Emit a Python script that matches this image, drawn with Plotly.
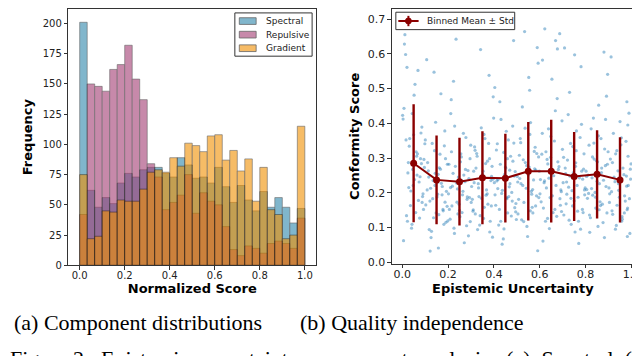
import numpy as np
import plotly.graph_objects as go

# ---- (a) histogram: counts per bin, 30 equal bins on [0, 1] ----
bin_edges = np.linspace(0.0, 1.0, 31)
spectral_counts = [201, 62, 48, 56, 51, 68, 76, 73, 79, 81, 81, 76, 73, 89, 83,
                   72, 73, 68, 81, 65, 52, 66, 54, 45, 61, 48, 56, 48, 35, 47]
repulsive_counts = [42, 150, 148, 144, 162, 166, 182, 154, 137, 84, 73, 46, 52, 58, 75,
                    43, 60, 53, 50, 32, 13, 8, 16, 14, 10, 18, 20, 18, 14, 39]
gradient_counts = [75, 22, 24, 45, 44, 54, 53, 53, 63, 77, 79, 77, 89, 82, 101,
                   99, 94, 107, 108, 87, 95, 78, 88, 53, 81, 46, 42, 22, 25, 115]

# ---- (b) scatter: epistemic uncertainty vs conformity score ----
unc_x = [
    0.004, 0.012, 0.019, 0.027, 0.033, 0.041, 0.048, 0.056, 0.063, 0.071, 0.078, 0.086, 0.093, 0.097, 0.008, 0.015,
    0.023, 0.031, 0.038, 0.046, 0.052, 0.059, 0.067, 0.074, 0.082, 0.089, 0.095, 0.006, 0.017, 0.025, 0.036, 0.044,
    0.054, 0.061, 0.069, 0.076, 0.084, 0.091, 0.099, 0.002, 0.021, 0.029, 0.043, 0.050, 0.065, 0.080, 0.087, 0.010,
    0.103, 0.111, 0.118, 0.124, 0.131, 0.137, 0.144, 0.152, 0.158, 0.165, 0.171, 0.178, 0.186, 0.193, 0.199, 0.107,
    0.114, 0.121, 0.128, 0.135, 0.141, 0.148, 0.155, 0.162, 0.169, 0.175, 0.182, 0.189, 0.196, 0.101, 0.116, 0.126,
    0.133, 0.146, 0.153, 0.160, 0.167, 0.174, 0.184, 0.191, 0.109, 0.139, 0.157, 0.179, 0.197, 0.122, 0.143, 0.187,
    0.202, 0.209, 0.215, 0.222, 0.228, 0.235, 0.241, 0.248, 0.254, 0.261, 0.267, 0.274, 0.281, 0.287, 0.294, 0.299,
    0.206, 0.212, 0.219, 0.226, 0.232, 0.239, 0.245, 0.252, 0.258, 0.265, 0.271, 0.278, 0.284, 0.291, 0.297, 0.204,
    0.217, 0.224, 0.237, 0.243, 0.256, 0.263, 0.276, 0.289, 0.211, 0.229, 0.250, 0.269, 0.283, 0.296, 0.214, 0.259,
    0.303, 0.309, 0.316, 0.322, 0.329, 0.335, 0.342, 0.348, 0.355, 0.361, 0.368, 0.374, 0.381, 0.387, 0.394, 0.399,
    0.306, 0.312, 0.319, 0.325, 0.332, 0.338, 0.345, 0.351, 0.358, 0.364, 0.371, 0.377, 0.384, 0.390, 0.397, 0.301,
    0.314, 0.327, 0.340, 0.353, 0.366, 0.379, 0.392, 0.310, 0.333, 0.357, 0.382, 0.396, 0.318, 0.346, 0.372, 0.389,
    0.402, 0.408, 0.415, 0.421, 0.428, 0.434, 0.441, 0.447, 0.454, 0.460, 0.467, 0.473, 0.480, 0.486, 0.493, 0.498,
    0.405, 0.411, 0.418, 0.424, 0.431, 0.437, 0.444, 0.450, 0.457, 0.463, 0.470, 0.476, 0.483, 0.489, 0.496, 0.404,
    0.417, 0.430, 0.443, 0.456, 0.469, 0.482, 0.495, 0.413, 0.436, 0.459, 0.478, 0.491, 0.426, 0.452, 0.465, 0.487,
    0.502, 0.508, 0.515, 0.521, 0.528, 0.534, 0.541, 0.547, 0.554, 0.560, 0.567, 0.573, 0.580, 0.586, 0.593, 0.598,
    0.505, 0.511, 0.518, 0.524, 0.531, 0.537, 0.544, 0.550, 0.557, 0.563, 0.570, 0.576, 0.583, 0.589, 0.596, 0.504,
    0.517, 0.530, 0.543, 0.556, 0.569, 0.582, 0.595, 0.513, 0.536, 0.559, 0.578, 0.591, 0.526, 0.552, 0.565, 0.587,
    0.603, 0.609, 0.616, 0.622, 0.629, 0.635, 0.642, 0.648, 0.655, 0.661, 0.668, 0.674, 0.681, 0.687, 0.694, 0.699,
    0.606, 0.612, 0.619, 0.625, 0.632, 0.638, 0.645, 0.651, 0.658, 0.664, 0.671, 0.677, 0.684, 0.690, 0.697, 0.601,
    0.614, 0.627, 0.640, 0.653, 0.666, 0.679, 0.692, 0.611, 0.634, 0.657, 0.676, 0.688, 0.621, 0.647, 0.669, 0.695,
    0.702, 0.708, 0.715, 0.721, 0.728, 0.734, 0.741, 0.747, 0.754, 0.760, 0.767, 0.773, 0.780, 0.786, 0.793, 0.798,
    0.705, 0.711, 0.718, 0.724, 0.731, 0.737, 0.744, 0.750, 0.757, 0.763, 0.770, 0.776, 0.783, 0.789, 0.796, 0.704,
    0.717, 0.730, 0.743, 0.756, 0.769, 0.782, 0.795, 0.713, 0.736, 0.759, 0.778, 0.791, 0.726, 0.752, 0.765, 0.787,
    0.802, 0.808, 0.815, 0.821, 0.828, 0.834, 0.841, 0.847, 0.854, 0.860, 0.867, 0.873, 0.880, 0.886, 0.893, 0.898,
    0.805, 0.811, 0.818, 0.824, 0.831, 0.837, 0.844, 0.850, 0.857, 0.863, 0.870, 0.876, 0.883, 0.889, 0.896, 0.804,
    0.817, 0.830, 0.843, 0.856, 0.869, 0.882, 0.895, 0.813, 0.836, 0.859, 0.878, 0.891, 0.826, 0.852, 0.865, 0.887,
    0.902, 0.908, 0.915, 0.921, 0.928, 0.934, 0.941, 0.947, 0.954, 0.960, 0.967, 0.973, 0.980, 0.986, 0.993, 0.998,
    0.905, 0.911, 0.918, 0.924, 0.931, 0.937, 0.944, 0.950, 0.957, 0.963, 0.970, 0.976, 0.983, 0.989, 0.996, 0.904,
    0.917, 0.930, 0.943, 0.956, 0.969, 0.982, 0.995, 0.913, 0.936, 0.959, 0.978, 0.991, 0.984, 0.981, 0.985, 0.979,
]
conf_y = [
    0.412, 0.655, 0.134, 0.287, 0.356, 0.098, 0.221, 0.512, 0.305, 0.178, 0.246, 0.389, 0.152, 0.273, 0.443, 0.598,
    0.118, 0.334, 0.205, 0.267, 0.481, 0.143, 0.312, 0.231, 0.372, 0.189, 0.296, 0.062, 0.352, 0.257, 0.163, 0.428,
    0.238, 0.318, 0.552, 0.127, 0.284, 0.197, 0.341, 0.423, 0.561, 0.215, 0.109, 0.367, 0.251, 0.298, 0.172, 0.628,
    0.165, 0.287, 0.094, 0.213, 0.342, 0.128, 0.256, 0.188, 0.041, 0.311, 0.227, 0.152, 0.378, 0.204, 0.119, 0.583,
    0.263, 0.176, 0.089, 0.235, 0.321, 0.142, 0.196, 0.272, 0.485, 0.218, 0.109, 0.298, 0.161, 0.352, 0.245, 0.071,
    0.183, 0.403, 0.229, 0.137, 0.268, 0.194, 0.335, 0.115, 0.208, 0.547, 0.253, 0.148, 0.282, 0.032, 0.221, 0.173,
    0.197, 0.124, 0.318, 0.256, 0.083, 0.642, 0.211, 0.167, 0.289, 0.143, 0.371, 0.232, 0.105, 0.264, 0.186, 0.337,
    0.152, 0.428, 0.219, 0.098, 0.276, 0.173, 0.245, 0.131, 0.303, 0.204, 0.056, 0.359, 0.188, 0.241, 0.117, 0.282,
    0.162, 0.521, 0.228, 0.139, 0.312, 0.194, 0.267, 0.076, 0.215, 0.392, 0.149, 0.251, 0.181, 0.298, 0.468, 0.236,
    0.218, 0.147, 0.332, 0.271, 0.094, 0.189, 0.612, 0.243, 0.126, 0.356, 0.208, 0.167, 0.298, 0.235, 0.072, 0.415,
    0.181, 0.262, 0.139, 0.313, 0.226, 0.107, 0.387, 0.254, 0.158, 0.284, 0.197, 0.342, 0.118, 0.247, 0.476, 0.172,
    0.229, 0.305, 0.134, 0.262, 0.193, 0.538, 0.276, 0.151, 0.214, 0.368, 0.087, 0.239, 0.322, 0.184, 0.291, 0.162,
    0.229, 0.164, 0.341, 0.107, 0.282, 0.198, 0.067, 0.253, 0.377, 0.142, 0.217, 0.305, 0.176, 0.638, 0.261, 0.123,
    0.194, 0.323, 0.238, 0.152, 0.411, 0.207, 0.096, 0.274, 0.183, 0.352, 0.226, 0.133, 0.291, 0.248, 0.169, 0.503,
    0.212, 0.118, 0.316, 0.186, 0.265, 0.392, 0.145, 0.234, 0.052, 0.298, 0.201, 0.157, 0.462, 0.271, 0.189, 0.343,
    0.247, 0.181, 0.356, 0.122, 0.295, 0.664, 0.213, 0.074, 0.274, 0.402, 0.158, 0.237, 0.331, 0.191, 0.573, 0.262,
    0.139, 0.308, 0.226, 0.447, 0.172, 0.287, 0.103, 0.251, 0.368, 0.204, 0.142, 0.319, 0.265, 0.618, 0.186, 0.231,
    0.344, 0.117, 0.278, 0.495, 0.209, 0.162, 0.303, 0.241, 0.386, 0.148, 0.269, 0.033, 0.221, 0.532, 0.196, 0.313,
    0.238, 0.311, 0.156, 0.672, 0.214, 0.283, 0.097, 0.362, 0.191, 0.249, 0.436, 0.132, 0.267, 0.658, 0.203, 0.325,
    0.174, 0.582, 0.229, 0.118, 0.296, 0.384, 0.186, 0.257, 0.143, 0.349, 0.221, 0.614, 0.275, 0.164, 0.407, 0.197,
    0.061, 0.318, 0.242, 0.527, 0.152, 0.289, 0.208, 0.371, 0.126, 0.263, 0.471, 0.183, 0.234, 0.302, 0.638, 0.146,
    0.229, 0.617, 0.168, 0.294, 0.121, 0.342, 0.206, 0.258, 0.087, 0.378, 0.187, 0.243, 0.563, 0.152, 0.312, 0.214,
    0.136, 0.271, 0.196, 0.425, 0.248, 0.109, 0.333, 0.177, 0.286, 0.221, 0.054, 0.359, 0.262, 0.143, 0.194, 0.302,
    0.231, 0.489, 0.162, 0.276, 0.118, 0.397, 0.208, 0.255, 0.184, 0.321, 0.095, 0.268, 0.216, 0.597, 0.147, 0.239,
    0.262, 0.184, 0.337, 0.128, 0.243, 0.415, 0.201, 0.292, 0.103, 0.226, 0.356, 0.167, 0.605, 0.278, 0.142, 0.318,
    0.209, 0.251, 0.086, 0.384, 0.193, 0.297, 0.156, 0.233, 0.452, 0.174, 0.271, 0.114, 0.326, 0.218, 0.541, 0.247,
    0.136, 0.303, 0.187, 0.364, 0.258, 0.071, 0.282, 0.198, 0.343, 0.151, 0.236, 0.478, 0.212, 0.289, 0.163, 0.411,
    0.214, 0.297, 0.148, 0.371, 0.232, 0.106, 0.263, 0.187, 0.338, 0.124, 0.252, 0.176, 0.462, 0.221, 0.083, 0.283,
    0.197, 0.591, 0.138, 0.245, 0.312, 0.164, 0.207, 0.405, 0.118, 0.271, 0.191, 0.348, 0.156, 0.429, 0.239, 0.172,
    0.287, 0.095, 0.226, 0.358, 0.142, 0.074, 0.268, 0.203, 0.321, 0.131, 0.248, 0.183, 0.395, 0.151, 0.305, 0.219,
]

# binned mean +/- std (10 bins)
bin_centers = [0.05, 0.15, 0.25, 0.35, 0.45, 0.55, 0.65, 0.75, 0.85, 0.95]
bin_means = [0.285, 0.237, 0.232, 0.243, 0.242, 0.262, 0.262, 0.247, 0.253, 0.237]
bin_stds = [0.170, 0.128, 0.126, 0.134, 0.128, 0.142, 0.148, 0.128, 0.127, 0.123]

W, H = 640, 356
SPECTRAL = "#2E86AB"
REPULSIVE = "#A23B72"
GRADIENT = "#F18F01"
DARKRED = "#8B0000"
AXIS_COLOR = "#333333"
SANS = "DejaVu Sans"
SERIF = "Liberation Serif"


def px(x):
    return x / W


def py(y):
    return 1 - y / H


centers = (bin_edges[:-1] + bin_edges[1:]) / 2
width = bin_edges[1] - bin_edges[0]

fig = go.Figure()
for name, counts, color in [("Spectral", spectral_counts, SPECTRAL),
                            ("Repulsive", repulsive_counts, REPULSIVE),
                            ("Gradient", gradient_counts, GRADIENT)]:
    fig.add_trace(go.Bar(x=centers, y=counts, width=width, name=name,
                         marker=dict(color=color, line=dict(color="black", width=0.6)),
                         opacity=0.6, xaxis="x", yaxis="y", showlegend=False))

fig.add_trace(go.Scatter(x=unc_x, y=conf_y, mode="markers", xaxis="x2", yaxis="y2",
                         marker=dict(color="#1f77b4", size=3.2, opacity=0.45, line=dict(width=0)),
                         showlegend=False))
fig.add_trace(go.Scatter(x=bin_centers, y=bin_means, mode="lines+markers", xaxis="x2", yaxis="y2",
                         name="Binned Mean ± Std",
                         line=dict(color=DARKRED, width=2),
                         marker=dict(color=DARKRED, size=7),
                         error_y=dict(type="data", array=bin_stds, color=DARKRED, thickness=2.4, width=0),
                         showlegend=False))

axis_common = dict(showline=True, mirror=True, linecolor=AXIS_COLOR, linewidth=1.2,
                   ticks="outside", ticklen=3.5, tickwidth=1, tickcolor=AXIS_COLOR,
                   showgrid=False, zeroline=False)
title_font = dict(family=SANS, size=13, color="black", weight="bold")

fig.update_layout(
    width=W, height=H, margin=dict(l=0, r=0, t=0, b=0),
    paper_bgcolor="white", plot_bgcolor="white", barmode="overlay",
    xaxis=dict(axis_common, domain=[px(61), px(311)], range=[-0.05, 1.05], anchor="y",
               tickvals=[0, 0.2, 0.4, 0.6, 0.8, 1.0], tickformat=".1f", ticklabelstandoff=-3,
               tickfont=dict(family=SANS, size=10, color="#222"),
               title=dict(text="Normalized Score", font=title_font, standoff=0)),
    yaxis=dict(axis_common, domain=[py(261.7), py(1)], range=[0, 212], anchor="x",
               tickvals=list(range(0, 201, 25)),
               tickfont=dict(family=SANS, size=10, color="#222"),
               title=dict(text="Frequency", font=title_font, standoff=7)),
    xaxis2=dict(axis_common, domain=[px(387.7), px(631.7)], range=[-0.044, 1.01], anchor="y2",
                tickvals=[0, 0.2, 0.4, 0.6, 0.8, 1.0], tickformat=".1f", ticklabelstandoff=-3,
                tickfont=dict(family=SANS, size=11, color="#222"),
                title=dict(text="Epistemic Uncertainty", font=title_font, standoff=0)),
    yaxis2=dict(axis_common, domain=[py(260), py(1)], range=[-0.004, 0.729], anchor="x2",
                tickvals=[0, 0.1, 0.2, 0.3, 0.4, 0.5, 0.6, 0.7], tickformat=".1f",
                tickfont=dict(family=SANS, size=11, color="#222"),
                title=dict(text="Conformity Score", font=title_font, standoff=5)),
)

# legend for (a), drawn in the matplotlib style
shapes = [dict(type="rect", xref="paper", yref="paper", x0=px(229), x1=px(307), y0=py(49), y1=py(5),
               line=dict(color=AXIS_COLOR, width=1), fillcolor="rgba(255,255,255,0.85)", layer="above")]
annotations = []
for i, (name, color) in enumerate([("Spectral", SPECTRAL), ("Repulsive", REPULSIVE), ("Gradient", GRADIENT)]):
    yc = 13.3 + i * 13.8
    shapes.append(dict(type="rect", xref="paper", yref="paper", x0=px(233.5), x1=px(250.5),
                       y0=py(yc + 3.4), y1=py(yc - 3.4), fillcolor=color, opacity=0.6,
                       line=dict(color="black", width=0.8), layer="above"))
    annotations.append(dict(text=name, xref="paper", yref="paper", x=px(258), y=py(yc),
                            xanchor="left", yanchor="middle", showarrow=False,
                            font=dict(family=SANS, size=9, color="#222")))

# legend for (b)
shapes += [
    dict(type="rect", xref="paper", yref="paper", x0=px(391.5), x1=px(511.5), y0=py(22), y1=py(4.3),
         line=dict(color=AXIS_COLOR, width=1), fillcolor="rgba(255,255,255,0.85)", layer="above"),
    dict(type="line", xref="paper", yref="paper", x0=px(394), x1=px(414.5), y0=py(13.2), y1=py(13.2),
         line=dict(color=DARKRED, width=2), layer="above"),
    dict(type="line", xref="paper", yref="paper", x0=px(404.2), x1=px(404.2), y0=py(18.5), y1=py(8),
         line=dict(color=DARKRED, width=2), layer="above"),
    dict(type="circle", xref="paper", yref="paper", x0=px(401.2), x1=px(407.2), y0=py(16.2), y1=py(10.2),
         fillcolor=DARKRED, line=dict(color=DARKRED, width=1), layer="above"),
]
annotations.append(dict(text="Binned Mean ± Std", xref="paper", yref="paper", x=px(420.5), y=py(13.4),
                        xanchor="left", yanchor="middle", showarrow=False,
                        font=dict(family=SANS, size=9, color="#222")))

# sub-captions and the figure caption (cut off by the crop, as in the source)
annotations += [
    dict(text="(a) Component distributions", xref="paper", yref="paper", x=px(131.5), y=py(319.5),
         xanchor="center", yanchor="middle", showarrow=False,
         font=dict(family=SERIF, size=22, color="black")),
    dict(text="(b) Quality independence", xref="paper", yref="paper", x=px(408), y=py(319.5),
         xanchor="center", yanchor="middle", showarrow=False,
         font=dict(family=SERIF, size=22, color="black")),
    dict(text="Figure 2:  Epistemic  uncertainty  component  analysis.  (a)  Spectral  (blue),",
         xref="paper", yref="paper", x=0, y=py(356.5), xanchor="left", yanchor="middle",
         showarrow=False, font=dict(family=SERIF, size=22, color="black")),
]

fig.update_layout(shapes=shapes, annotations=annotations)
fig.write_html("out.html")
